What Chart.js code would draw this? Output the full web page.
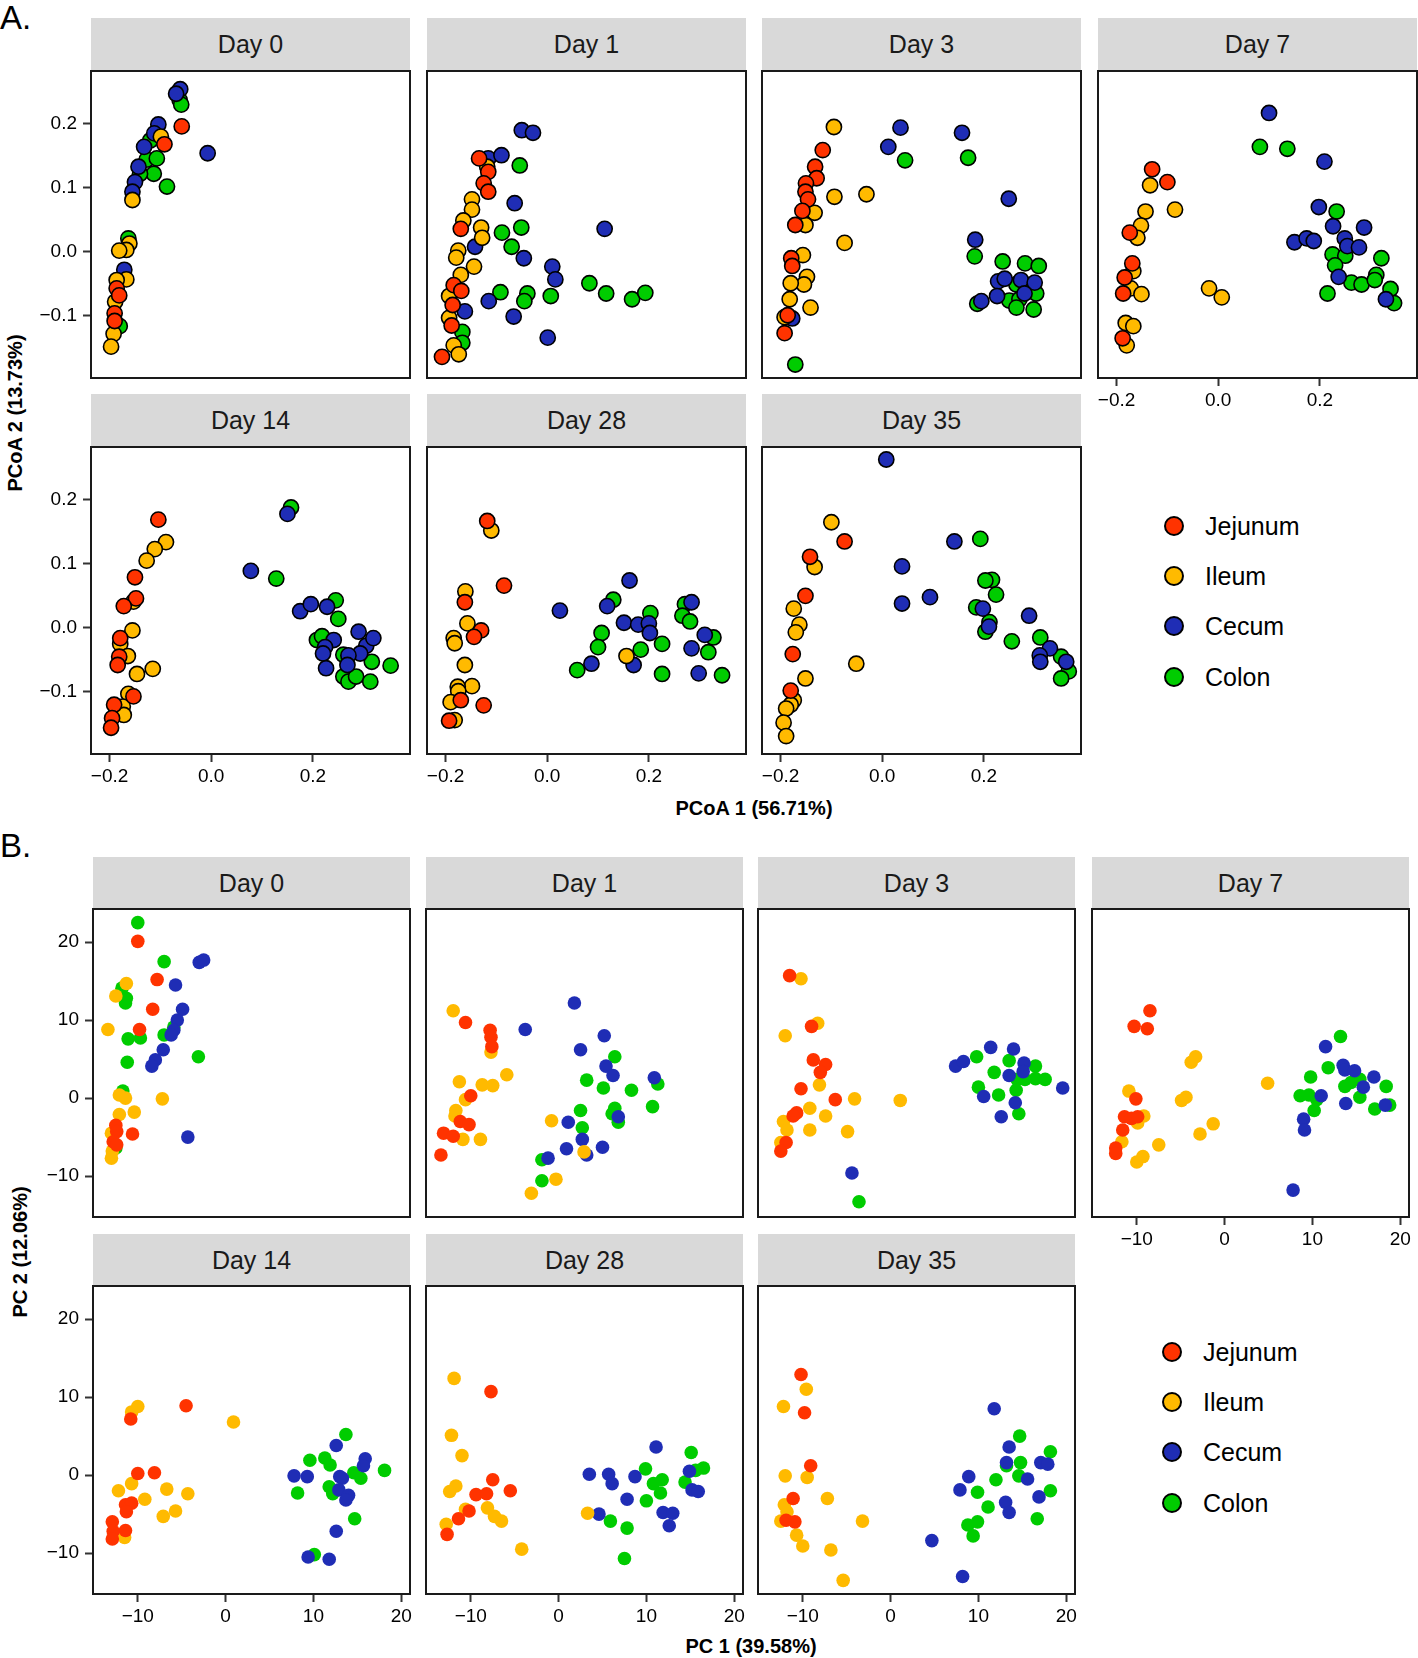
<!DOCTYPE html>
<html>
<head>
<meta charset="utf-8">
<script src="https://cdn.jsdelivr.net/npm/chart.js@4.4.1/dist/chart.umd.min.js"></script>
<style>
  body { margin: 0; background: #fff; }
  #fig { position: relative; width: 1418px; height: 1658px; font-family: "Liberation Sans", Arial, sans-serif; color: #000; }
  #fig canvas { position: absolute; }
  .strip { position: absolute; background: #d9d9d9; color: #1a1a1a; font-size: 25px; display: flex; align-items: center; justify-content: center; }
  .tag { position: absolute; left: 0; font-size: 33px; line-height: 1; }
  .title { position: absolute; font-size: 20px; font-weight: bold; white-space: nowrap; transform: translate(-50%, -50%); }
  .title.rot { transform: translate(-50%, -50%) rotate(-90deg); }
  .key { position: absolute; width: 20px; height: 20px; border-radius: 50%; border: 2px solid #000; box-sizing: border-box; }
  .keytext { position: absolute; font-size: 25px; line-height: 30px; white-space: nowrap; }
</style>
</head>
<body>
<div id="fig">
  <div class="tag" style="top:1px">A.</div>
  <div class="tag" style="top:829px">B.</div>
  <div class="title" style="left:754px; top:808px">PCoA 1 (56.71%)</div>
  <div class="title rot" style="left:15px; top:413px">PCoA 2 (13.73%)</div>
  <div class="title" style="left:751px; top:1646px">PC 1 (39.58%)</div>
  <div class="title rot" style="left:20px; top:1252px">PC 2 (12.06%)</div>
</div>
<script>
const tissues = ['Jejunum', 'Ileum', 'Cecum', 'Colon'];
const tissueKeys = ['J', 'I', 'C', 'O'];
const tissueColors = ['#ff3300', '#ffba00', '#1f2db5', '#00cc00'];
const days = ['Day 0', 'Day 1', 'Day 3', 'Day 7', 'Day 14', 'Day 28', 'Day 35'];

const pcoaXTicks = [-0.2, 0, 0.2];
const pcoaYTicks = [-0.1, 0, 0.1, 0.2];
const pcaXTicks = [-10, 0, 10, 20];
const pcaYTicks = [-10, 0, 10, 20];

// A. PCoA scores per day, [PCoA1, PCoA2]
const pcoaDay0 = {
  J: [[-0.058,0.196],[-0.092,0.168],[-0.186,-0.057],[-0.181,-0.068],[-0.190,-0.096],[-0.190,-0.108]],
  I: [[-0.099,0.180],[-0.155,0.081],[-0.161,0.013],[-0.167,0.003],[-0.181,0.002],[-0.167,-0.043],[-0.186,-0.044],[-0.189,-0.078],[-0.192,-0.128],[-0.197,-0.148]],
  C: [[-0.061,0.254],[-0.069,0.247],[-0.007,0.154],[-0.104,0.199],[-0.112,0.185],[-0.132,0.164],[-0.143,0.133],[-0.150,0.109],[-0.155,0.094],[-0.171,-0.028]],
  O: [[-0.062,0.237],[-0.059,0.230],[-0.120,0.174],[-0.127,0.144],[-0.107,0.146],[-0.113,0.122],[-0.087,0.102],[-0.140,0.122],[-0.163,0.021],[-0.180,-0.116]]
};
const pcoaDay1 = {
  J: [[-0.134,0.146],[-0.116,0.125],[-0.125,0.107],[-0.116,0.094],[-0.170,0.036],[-0.184,-0.052],[-0.169,-0.061],[-0.186,-0.083],[-0.188,-0.115],[-0.207,-0.164]],
  I: [[-0.118,0.133],[-0.148,0.082],[-0.148,0.066],[-0.165,0.049],[-0.130,0.038],[-0.128,0.022],[-0.175,0.002],[-0.179,-0.009],[-0.144,-0.023],[-0.170,-0.036],[-0.193,-0.069],[-0.193,-0.103],[-0.184,-0.146],[-0.174,-0.160]],
  C: [[-0.050,0.190],[-0.028,0.186],[-0.116,0.146],[-0.090,0.151],[-0.064,0.076],[0.113,0.036],[-0.142,0.008],[-0.046,-0.010],[0.010,-0.023],[0.016,-0.043],[-0.115,-0.077],[-0.162,-0.093],[-0.066,-0.101],[0.001,-0.134]],
  O: [[-0.054,0.135],[-0.089,0.030],[-0.051,0.038],[-0.070,0.008],[-0.092,-0.063],[-0.039,-0.065],[-0.045,-0.077],[0.007,-0.069],[0.083,-0.049],[0.116,-0.065],[0.167,-0.074],[0.193,-0.064],[-0.167,-0.125],[-0.167,-0.142]]
};
const pcoaDay3 = {
  J: [[-0.117,0.159],[-0.132,0.133],[-0.129,0.115],[-0.150,0.107],[-0.151,0.094],[-0.146,0.082],[-0.157,0.064],[-0.171,0.042],[-0.179,-0.010],[-0.177,-0.022],[-0.186,-0.099],[-0.192,-0.127]],
  I: [[-0.095,0.195],[-0.094,0.086],[-0.031,0.090],[-0.133,0.061],[-0.151,0.042],[-0.074,0.014],[-0.156,-0.005],[-0.148,-0.039],[-0.154,-0.051],[-0.180,-0.049],[-0.182,-0.074],[-0.141,-0.087],[-0.192,-0.102]],
  C: [[0.036,0.194],[0.157,0.186],[0.012,0.164],[0.249,0.083],[0.183,0.019],[-0.177,-0.104],[0.228,-0.046],[0.241,-0.042],[0.273,-0.044],[0.300,-0.048],[0.226,-0.069],[0.195,-0.077],[0.280,-0.065]],
  O: [[0.045,0.143],[0.169,0.147],[0.182,-0.007],[-0.171,-0.176],[0.237,-0.015],[0.281,-0.018],[0.308,-0.022],[0.264,-0.051],[0.250,-0.076],[0.270,-0.074],[0.303,-0.065],[0.264,-0.087],[0.298,-0.090],[0.187,-0.081]]
};
const pcoaDay7 = {
  J: [[-0.130,0.129],[-0.100,0.109],[-0.174,0.030],[-0.169,-0.018],[-0.184,-0.040],[-0.187,-0.065],[-0.188,-0.135]],
  I: [[-0.134,0.104],[-0.085,0.066],[-0.143,0.063],[-0.152,0.041],[-0.159,0.022],[-0.167,-0.030],[-0.172,-0.057],[-0.151,-0.066],[-0.018,-0.057],[0.007,-0.071],[-0.182,-0.111],[-0.167,-0.116],[-0.180,-0.146]],
  C: [[0.100,0.217],[0.209,0.141],[0.198,0.070],[0.226,0.040],[0.287,0.038],[0.150,0.015],[0.174,0.021],[0.188,0.017],[0.249,0.021],[0.254,0.009],[0.277,0.007],[0.237,-0.039],[0.330,-0.074]],
  O: [[0.082,0.164],[0.136,0.161],[0.233,0.063],[0.225,-0.004],[0.250,-0.006],[0.230,-0.021],[0.262,-0.048],[0.282,-0.051],[0.321,-0.010],[0.311,-0.036],[0.308,-0.044],[0.339,-0.058],[0.346,-0.080],[0.215,-0.065]]
};
const pcoaDay14 = {
  J: [[-0.104,0.169],[-0.150,0.079],[-0.148,0.046],[-0.172,0.034],[-0.179,-0.016],[-0.181,-0.045],[-0.184,-0.058],[-0.153,-0.107],[-0.191,-0.120],[-0.195,-0.141],[-0.197,-0.156]],
  I: [[-0.089,0.134],[-0.111,0.123],[-0.127,0.105],[-0.153,0.041],[-0.155,-0.004],[-0.179,-0.025],[-0.164,-0.044],[-0.146,-0.072],[-0.115,-0.064],[-0.163,-0.103],[-0.174,-0.123],[-0.172,-0.136]],
  C: [[0.150,0.178],[0.078,0.089],[0.175,0.026],[0.196,0.037],[0.228,0.033],[0.241,-0.019],[0.224,-0.030],[0.220,-0.040],[0.290,-0.006],[0.305,-0.028],[0.319,-0.016],[0.293,-0.040],[0.270,-0.043],[0.268,-0.058],[0.226,-0.063]],
  O: [[0.157,0.188],[0.128,0.077],[0.245,0.043],[0.250,0.014],[0.208,-0.019],[0.218,-0.013],[0.260,-0.042],[0.316,-0.053],[0.353,-0.059],[0.260,-0.076],[0.270,-0.084],[0.285,-0.076],[0.313,-0.084]]
};
const pcoaDay28 = {
  J: [[-0.118,0.167],[-0.085,0.066],[-0.162,0.040],[-0.130,-0.004],[-0.144,-0.014],[-0.170,-0.113],[-0.125,-0.121],[-0.193,-0.145]],
  I: [[-0.110,0.152],[-0.161,0.057],[-0.157,0.007],[-0.184,-0.016],[-0.182,-0.024],[-0.162,-0.058],[-0.148,-0.091],[-0.176,-0.092],[-0.175,-0.099],[-0.190,-0.116],[-0.182,-0.144],[0.156,-0.044]],
  C: [[0.025,0.027],[0.162,0.074],[0.118,0.034],[0.151,0.008],[0.179,0.005],[0.200,0.007],[0.202,-0.008],[0.087,-0.056],[0.170,-0.058],[0.284,0.040],[0.310,-0.011],[0.284,-0.032],[0.298,-0.071]],
  O: [[0.130,0.044],[0.203,0.023],[0.107,-0.008],[0.100,-0.030],[0.059,-0.066],[0.184,-0.034],[0.226,-0.025],[0.226,-0.072],[0.271,0.037],[0.266,0.019],[0.281,0.010],[0.327,-0.015],[0.317,-0.038],[0.344,-0.074]]
};
const pcoaDay35 = {
  J: [[-0.074,0.135],[-0.142,0.111],[-0.151,0.050],[-0.176,-0.041],[-0.180,-0.098]],
  I: [[-0.100,0.165],[-0.133,0.095],[-0.174,0.030],[-0.163,0.005],[-0.170,-0.007],[-0.051,-0.056],[-0.151,-0.079],[-0.174,-0.113],[-0.180,-0.120],[-0.189,-0.126],[-0.194,-0.148],[-0.189,-0.169]],
  C: [[0.008,0.263],[0.142,0.135],[0.039,0.096],[0.039,0.038],[0.094,0.048],[0.198,0.030],[0.210,0.002],[0.289,0.019],[0.330,-0.032],[0.310,-0.043],[0.311,-0.053],[0.362,-0.053]],
  O: [[0.193,0.139],[0.216,0.075],[0.203,0.074],[0.224,0.052],[0.185,0.032],[0.211,0.009],[0.203,-0.006],[0.255,-0.021],[0.311,-0.015],[0.352,-0.045],[0.367,-0.068],[0.352,-0.079]]
};

// B. PCA scores per day, [PC1, PC2]
const pcaDay0 = {
  J: [[-10.0,20.1],[-7.8,15.2],[-8.3,11.4],[-9.8,8.8],[-12.5,-3.5],[-12.4,-4.3],[-10.6,-4.6],[-12.8,-5.6],[-12.4,-6.0]],
  I: [[-11.3,14.7],[-12.5,13.1],[-13.4,8.8],[-12.1,0.4],[-11.4,0.0],[-7.2,-0.1],[-10.4,-1.8],[-12.1,-2.1],[-13.0,-4.5],[-12.9,-6.8],[-13.0,-7.7]],
  C: [[-3.0,17.4],[-2.5,17.7],[-5.7,14.5],[-4.9,11.4],[-5.5,10.0],[-5.9,8.7],[-6.2,8.1],[-7.1,6.2],[-8.0,4.9],[-8.4,4.1],[-4.3,-5.0]],
  O: [[-10.0,22.5],[-7.0,17.5],[-11.8,14.1],[-11.3,12.8],[-11.4,12.2],[-5.9,9.1],[-7.0,8.1],[-11.1,7.6],[-9.7,7.7],[-11.2,4.6],[-3.1,5.3],[-11.7,0.9],[-12.5,-6.4]]
};
const pcaDay1 = {
  J: [[-10.6,9.7],[-7.8,8.7],[-7.7,7.8],[-7.6,6.6],[-10.0,0.3],[-11.2,-3.0],[-10.2,-3.4],[-13.1,-4.5],[-12.0,-4.9],[-13.4,-7.3]],
  I: [[-12.0,11.2],[-7.7,5.9],[-5.9,3.0],[-11.3,2.1],[-8.7,1.7],[-7.5,1.6],[-10.6,-0.2],[-11.7,-1.6],[-11.8,-2.3],[-10.9,-5.3],[-8.9,-5.3],[-0.8,-2.9],[2.9,-6.9],[-0.3,-10.4],[-3.1,-12.2]],
  C: [[-3.8,8.8],[1.8,12.2],[5.2,8.0],[2.5,6.2],[5.4,4.1],[6.2,2.9],[10.9,2.6],[6.8,-2.4],[1.1,-3.1],[2.7,-5.3],[0.9,-6.5],[5.0,-6.3],[-1.2,-7.7],[3.2,-7.3]],
  O: [[6.4,5.3],[3.2,2.3],[5.1,1.3],[8.3,1.0],[11.3,1.8],[2.5,-1.6],[6.4,-1.3],[6.1,-2.0],[6.8,-3.1],[10.7,-1.1],[2.7,-3.8],[-1.9,-7.9],[-1.9,-10.6]]
};
const pcaDay3 = {
  J: [[-11.5,15.7],[-9.0,9.2],[-8.8,4.9],[-7.4,4.3],[-8.0,3.3],[-10.2,1.2],[-6.3,-0.2],[-10.7,-1.9],[-11.1,-2.3],[-11.9,-5.7],[-12.5,-6.8]],
  I: [[-10.2,15.3],[-8.3,9.6],[-12.0,8.0],[-8.1,1.7],[-4.1,-0.1],[1.1,-0.3],[-9.2,-1.3],[-7.4,-2.3],[-12.2,-3.0],[-11.8,-4.1],[-9.2,-4.1],[-4.9,-4.3],[-12.5,-5.7]],
  C: [[-4.4,-9.6],[7.4,4.1],[8.3,4.7],[11.4,6.5],[14.0,6.3],[15.2,4.5],[13.5,2.9],[15.1,3.4],[19.6,1.3],[10.6,0.2],[14.2,-0.6],[12.6,-2.4]],
  O: [[-3.6,-13.3],[9.8,5.3],[13.5,4.8],[11.8,3.3],[16.5,4.1],[14.4,2.4],[15.3,2.4],[16.5,2.5],[17.6,2.4],[10.0,1.4],[12.3,0.4],[14.3,1.0],[14.6,-2.0]]
};
const pcaDay7 = {
  J: [[-8.5,11.2],[-10.3,9.2],[-8.8,8.9],[-10.1,-0.1],[-11.4,-2.4],[-10.6,-2.6],[-9.9,-2.4],[-11.6,-4.1],[-12.4,-6.4],[-12.4,-7.1]],
  I: [[-3.3,5.3],[-3.8,4.6],[4.9,1.9],[-10.9,0.9],[-4.4,0.1],[-4.9,-0.3],[-9.2,-2.3],[-9.9,-3.2],[-11.7,-5.6],[-7.5,-6.0],[-9.3,-7.5],[-10.0,-8.2],[-1.3,-3.3],[-2.8,-4.6]],
  C: [[11.5,6.6],[13.5,4.2],[13.7,3.6],[14.8,3.5],[17.0,2.7],[15.8,1.4],[11.0,0.3],[13.8,-0.7],[18.3,-0.9],[9.0,-2.7],[9.1,-4.1],[7.8,-11.8]],
  O: [[13.2,7.9],[11.8,3.9],[9.8,2.7],[15.4,2.4],[14.4,2.0],[13.7,1.5],[18.4,1.5],[8.6,0.3],[9.6,0.4],[10.5,-0.2],[10.2,-1.6],[15.4,0.1],[17.1,-1.4],[18.8,-0.9]]
};
const pcaDay14 = {
  J: [[-10.8,7.2],[-4.5,8.9],[-10.0,0.2],[-8.1,0.3],[-11.4,-3.8],[-10.7,-3.6],[-11.3,-4.7],[-12.9,-6.0],[-11.4,-7.1],[-12.8,-7.2],[-12.9,-8.2]],
  I: [[-10.7,8.1],[-10.0,8.8],[0.9,6.8],[-10.7,-1.1],[-12.2,-2.0],[-6.7,-1.8],[-4.3,-2.4],[-9.2,-3.1],[-7.1,-5.3],[-5.7,-4.6],[-11.5,-8.0]],
  C: [[7.8,-0.1],[9.3,-0.2],[12.6,3.8],[15.9,2.1],[15.7,1.2],[13.0,-0.2],[13.3,-0.4],[12.9,-1.9],[14.0,-2.6],[13.7,-3.2],[12.6,-7.2],[9.4,-10.5],[11.8,-10.8]],
  O: [[9.6,1.9],[11.3,2.2],[11.9,1.3],[13.7,5.2],[14.6,0.3],[15.4,-0.4],[18.1,0.6],[8.2,-2.3],[11.8,-1.5],[12.2,-2.4],[14.7,-5.6],[10.1,-10.2]]
};
const pcaDay28 = {
  J: [[-7.7,10.7],[-7.5,-0.6],[-9.4,-2.5],[-8.2,-2.4],[-5.5,-2.0],[-10.2,-4.6],[-11.4,-5.6],[-12.7,-7.6]],
  I: [[-11.9,12.4],[-12.2,5.1],[-11.0,2.5],[-11.7,-1.4],[-12.4,-2.1],[-10.6,-4.4],[-8.1,-4.2],[-7.3,-5.3],[-6.5,-5.9],[-12.8,-6.3],[-4.2,-9.5],[3.3,-4.9]],
  C: [[3.5,0.1],[5.7,0.1],[6.1,-1.1],[8.7,-0.2],[11.1,3.6],[7.8,-3.1],[11.9,-4.8],[13.0,-4.9],[12.6,-6.5],[4.6,-5.0],[14.9,0.5],[15.2,-1.9],[15.9,-2.1]],
  O: [[9.9,0.8],[10.8,-1.1],[11.8,-0.6],[11.6,-2.3],[10.0,-3.3],[5.9,-5.9],[7.8,-6.8],[7.5,-10.7],[15.1,2.9],[15.6,0.6],[16.5,0.9],[14.4,-0.9]]
};
const pcaDay35 = {
  J: [[-10.2,12.9],[-9.8,8.0],[-9.1,1.2],[-11.1,-3.0],[-11.9,-5.8],[-10.9,-6.0]],
  I: [[-9.6,11.0],[-12.2,8.8],[-12.0,-0.1],[-9.5,-0.3],[-7.2,-3.0],[-12.1,-3.8],[-11.8,-4.7],[-12.5,-5.9],[-3.2,-5.9],[-10.7,-7.7],[-10.0,-9.1],[-6.8,-9.6],[-5.4,-13.5]],
  C: [[11.8,8.5],[13.5,3.6],[17.1,1.6],[17.9,1.4],[13.2,1.6],[15.6,-0.5],[8.9,-0.2],[7.9,-1.9],[16.9,-2.8],[13.1,-3.5],[13.5,-4.8],[4.7,-8.4],[8.2,-13.0]],
  O: [[14.7,5.0],[18.2,3.0],[13.2,1.2],[14.8,1.6],[14.6,-0.1],[12.0,-0.6],[9.9,-2.2],[18.2,-2.0],[11.1,-4.1],[16.7,-5.6],[9.9,-6.0],[8.8,-6.4],[9.4,-7.8]]
};

const pcoaDays = [pcoaDay0, pcoaDay1, pcoaDay3, pcoaDay7, pcoaDay14, pcoaDay28, pcoaDay35];
const pcaDays = [pcaDay0, pcaDay1, pcaDay3, pcaDay7, pcaDay14, pcaDay28, pcaDay35];

const fig = document.getElementById('fig');
const FONT = "'Liberation Sans', Arial, sans-serif";
const PAD = 3, AXIS_W = 58, AXIS_H = 36;

// facet layout, in page pixels
const sectionA = {
  cols: [91, 427, 762, 1098], width: 319,
  stripTops: [18, 394], stripH: 53, panelTops: [71, 447], panelH: 307,
  xMin: -0.2365, xMax: 0.3911, yMin: -0.197, yMax: 0.2825,
  xTicks: pcoaXTicks, yTicks: pcoaYTicks, decimals: 1,
  radius: 7.6, border: 1.6, data: pcoaDays
};
const sectionB = {
  cols: [93, 426, 758, 1092], width: 317,
  stripTops: [857, 1234], stripH: 52, panelTops: [909, 1286], panelH: 308,
  xMin: -15.1, xMax: 21.0, yMin: -15.25, yMax: 24.25,
  xTicks: pcaXTicks, yTicks: pcaYTicks, decimals: 0,
  radius: 6.8, border: 0, data: pcaDays
};

function fmtTick(v, decimals) {
  const s = Math.abs(v).toFixed(decimals);
  return (v < -1e-9 ? '\u2212' : '') + s;
}

// black box round each panel
const panelFrame = {
  id: 'panelFrame',
  afterDraw(chart) {
    const a = chart.chartArea, c = chart.ctx;
    c.save();
    c.strokeStyle = '#1a1a1a';
    c.lineWidth = 2;
    c.strokeRect(a.left, a.top, a.right - a.left, a.bottom - a.top);
    c.restore();
  }
};

function axisOptions(show, min, max, ticks, decimals, isX) {
  return {
    type: 'linear',
    display: show,
    min: min,
    max: max,
    afterBuildTicks: s => { s.ticks = ticks.map(v => ({ value: v })); },
    afterFit: s => {
      if (!show) return;
      // fixed axis size, and no extra room for half labels at the ends
      if (isX) { s.height = AXIS_H; s.paddingLeft = 0; s.paddingRight = 0; }
      else { s.width = AXIS_W; s.paddingTop = 0; s.paddingBottom = 0; }
    },
    border: { display: false },
    grid: { drawOnChartArea: false, drawTicks: true, tickLength: 8, tickColor: '#333', tickWidth: 2 },
    ticks: {
      autoSkip: false, maxRotation: 0, padding: isX ? 3 : 6,
      color: '#000', font: { family: FONT, size: 19 },
      callback: v => fmtTick(v, decimals)
    }
  };
}

function drawPanel(sec, i) {
  const col = i < 4 ? i : i - 4, row = i < 4 ? 0 : 1;
  const showY = col === 0, showX = row === 1 || i === 3;
  const left = sec.cols[col], top = sec.panelTops[row];

  const strip = document.createElement('div');
  strip.className = 'strip';
  strip.style.left = left + 'px';
  strip.style.top = sec.stripTops[row] + 'px';
  strip.style.width = sec.width + 'px';
  strip.style.height = sec.stripH + 'px';
  strip.textContent = days[i];
  fig.appendChild(strip);

  const L = showY ? AXIS_W : 0, B = showX ? AXIS_H : 0;
  const canvas = document.createElement('canvas');
  canvas.width = sec.width + L + 2 * PAD;
  canvas.height = sec.panelH + B + 2 * PAD;
  canvas.style.left = (left - L - PAD) + 'px';
  canvas.style.top = (top - PAD) + 'px';
  fig.appendChild(canvas);

  const panel = sec.data[i];
  new Chart(canvas, {
    type: 'scatter',
    data: {
      datasets: tissues.map((name, k) => ({
        label: name,
        data: panel[tissueKeys[k]].map(p => ({ x: p[0], y: p[1] })),
        pointRadius: sec.radius,
        pointHoverRadius: sec.radius,
        pointBackgroundColor: tissueColors[k],
        pointBorderColor: '#000',
        pointBorderWidth: sec.border
      }))
    },
    options: {
      responsive: false,
      animation: false,
      events: [],
      layout: { padding: PAD, autoPadding: false },
      plugins: { legend: { display: false }, tooltip: { enabled: false } },
      scales: {
        x: axisOptions(showX, sec.xMin, sec.xMax, sec.xTicks, sec.decimals, true),
        y: axisOptions(showY, sec.yMin, sec.yMax, sec.yTicks, sec.decimals, false)
      }
    },
    plugins: [panelFrame]
  });
}

function drawLegend(cx, cy0) {
  tissues.forEach((name, k) => {
    const cy = cy0 + k * 50.3;
    const key = document.createElement('div');
    key.className = 'key';
    key.style.left = (cx - 10) + 'px';
    key.style.top = (cy - 10) + 'px';
    key.style.background = tissueColors[k];
    fig.appendChild(key);
    const txt = document.createElement('div');
    txt.className = 'keytext';
    txt.style.left = (cx + 31) + 'px';
    txt.style.top = (cy - 15) + 'px';
    txt.textContent = name;
    fig.appendChild(txt);
  });
}

days.forEach((d, i) => { drawPanel(sectionA, i); drawPanel(sectionB, i); });
drawLegend(1174, 525.7);
drawLegend(1172, 1351.7);
</script>
</body>
</html>
